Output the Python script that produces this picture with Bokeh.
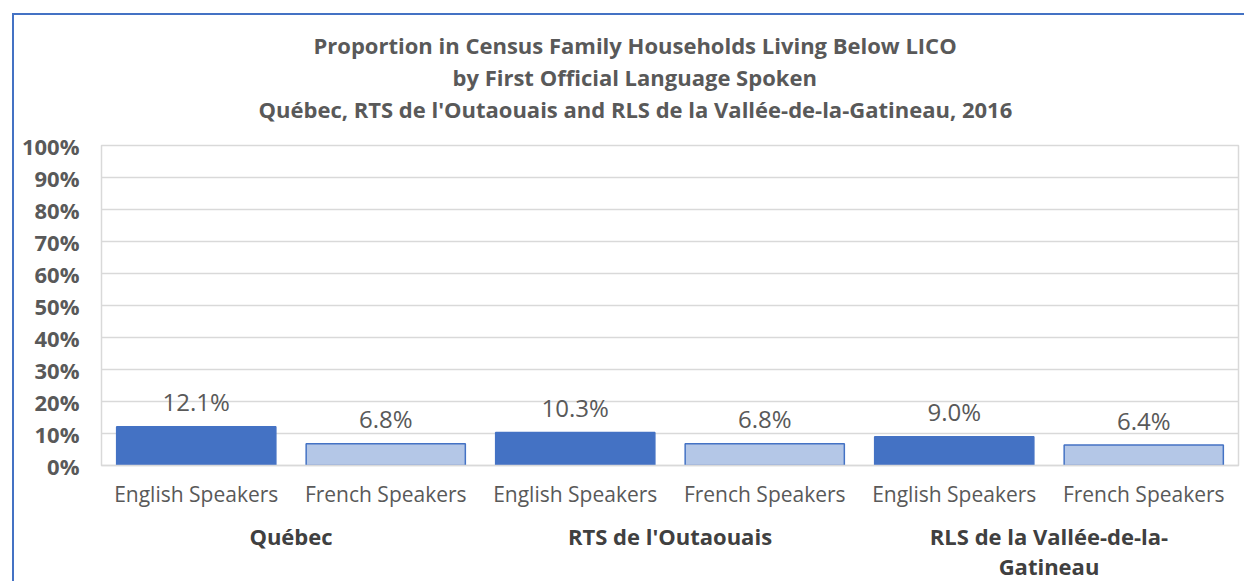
from bokeh.plotting import figure
from bokeh.models import (FactorRange, Range1d, SingleIntervalTicker, PrintfTickFormatter, Title,
                          ColumnDataSource, CategoricalAxis)
from bokeh.core.properties import value
from bokeh.embed import file_html
from bokeh.resources import INLINE

title_lines = ["Proportion  in Census Family Households Living Below LICO",
               "by First Official Language Spoken",
               "Québec, RTS de l'Outaouais  and RLS de la Vallée-de-la-Gatineau,  2016"]
regions = ["Québec", "RTS de l'Outaouais", "RLS de la Vallée-de-la-\nGatineau"]
speakers = ["English Speakers", "French Speakers"]
english = [12.1, 10.3, 9.0]
french = [6.8, 6.8, 6.4]

FONT = "Open Sans"
GREY = "#595959"
W, H = 1232, 568

factors = [(r, s) for r in regions for s in speakers]
vals = []
for e, f in zip(english, french):
    vals += [e, f]
fills = ["#4472C4", "#B4C7E7"] * len(regions)
labels = [f"{v:.1f}%" for v in vals]
src = ColumnDataSource(dict(x=factors, y=vals, fill=fills, lab=labels))

p = figure(width=W, height=H, output_backend="svg", toolbar_location=None,
           x_range=FactorRange(*factors, range_padding=0, factor_padding=0, group_padding=0),
           y_range=Range1d(0, 100),
           min_border_left=87, min_border_right=8, min_border_top=130, min_border_bottom=116)
p.styles = {"border-left": "2px solid #4472C4", "border-top": "2px solid #4472C4",
            "margin-left": "12px", "margin-top": "13px"}

p.vbar(x="x", top="y", width=0.84, source=src, fill_color="fill", line_color="#4472C4", line_width=1.5)
p.text(x="x", y="y", text="lab", source=src, y_offset=-25, text_align="center", text_baseline="middle",
       text_font=value(FONT), text_font_size="24px", text_color=GREY)

# spacer between the plot frame and the title block
p.add_layout(Title(text=" ", text_font_size="1px", standoff=19), "above")
title_offsets = [212, 351, 157]
for t, off in reversed(list(zip(title_lines, title_offsets))):
    p.add_layout(Title(text=t, align="left", offset=off, text_font=FONT, text_font_size="22px",
                       text_font_style="bold", text_color=GREY, standoff=0), "above")

p.outline_line_color = "#D9D9D9"
p.outline_line_width = 1.5
p.xgrid.grid_line_color = None
p.ygrid.grid_line_color = "#D9D9D9"
p.ygrid.grid_line_width = 1.5

p.yaxis.ticker = SingleIntervalTicker(interval=10)
p.yaxis.formatter = PrintfTickFormatter(format="%d%%")
p.yaxis.axis_line_color = None
p.yaxis.major_tick_line_color = None
p.yaxis.minor_tick_line_color = None
p.yaxis.major_label_standoff = 16
p.yaxis.major_label_text_font = FONT
p.yaxis.major_label_text_font_size = "22px"
p.yaxis.major_label_text_font_style = "bold"
p.yaxis.major_label_text_color = GREY

xa = p.xaxis[0]
xa.axis_line_color = "#D9D9D9"
xa.axis_line_width = 1.5
xa.major_tick_line_color = None
xa.minor_tick_line_color = None
xa.separator_line_color = None
xa.major_label_standoff = 8
xa.major_label_text_font = FONT
xa.major_label_text_font_size = "21px"
xa.major_label_text_color = GREY
xa.group_text_font_size = "1px"
xa.group_text_color = None

# second axis carrying the region names
p.extra_x_ranges = {"groups": FactorRange(*regions, range_padding=0, factor_padding=0)}
ga = CategoricalAxis(x_range_name="groups", axis_line_color=None, major_tick_line_color=None,
                     minor_tick_line_color=None, major_label_standoff=4,
                     major_label_text_font=FONT, major_label_text_font_size="22px",
                     major_label_text_line_height=1.0,
                     major_label_text_font_style="bold", major_label_text_color="#404040")
p.add_layout(ga, "below")

open("out.html", "w").write(file_html(p, INLINE))
